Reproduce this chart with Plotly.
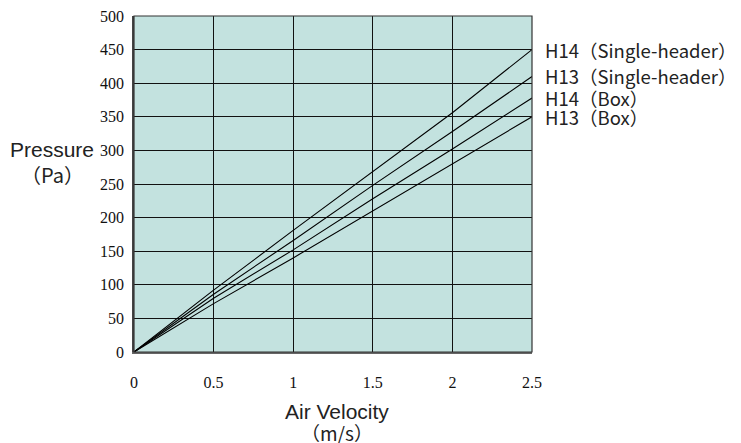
import plotly.graph_objects as go

velocity = [0, 0.5, 1.0, 1.5, 2.0, 2.5]
h14_single = [0, 92, 181, 268, 356, 450]
h13_single = [0, 86, 166, 248, 328, 410]
h14_box = [0, 80, 152, 228, 302, 378]
h13_box = [0, 72, 140, 210, 280, 350]

series = [
    ("H14（Single-header）", h14_single),
    ("H13（Single-header）", h13_single),
    ("H14（Box）", h14_box),
    ("H13（Box）", h13_box),
]

x_ticks = [0, 0.5, 1, 1.5, 2, 2.5]
x_ticktext = ["0", "0.5", "1", "1.5", "2", "2.5"]
y_ticks = list(range(0, 501, 50))
y_ticktext = [str(v) for v in y_ticks]

cjk_font = "Noto Sans CJK JP, Noto Sans CJK SC, sans-serif"
title_font = "Liberation Sans, Arial, sans-serif"
tick_font = "Liberation Serif, Times New Roman, serif"

fig = go.Figure()
for name, vals in series:
    fig.add_trace(go.Scatter(x=velocity, y=vals, mode="lines", name=name,
                             line=dict(color="black", width=1.1), showlegend=False))
    fig.add_annotation(x=velocity[-1], y=vals[-1], xref="x", yref="y", text=name,
                       showarrow=False, xanchor="left", yanchor="middle", xshift=11,
                       font=dict(family=cjk_font, size=18.5, color="#222"))

fig.add_annotation(x=-0.206, y=0.604, xref="paper", yref="paper", text="Pressure",
                   showarrow=False, xanchor="center", yanchor="middle",
                   font=dict(family=title_font, size=21, color="#222"))
fig.add_annotation(x=-0.206, y=0.527, xref="paper", yref="paper", text="（Pa）",
                   showarrow=False, xanchor="center", yanchor="middle",
                   font=dict(family=cjk_font, size=20, color="#222"))
fig.add_annotation(x=0.51, y=0, xref="paper", yref="paper", text="Air Velocity",
                   showarrow=False, xanchor="center", yanchor="middle", yshift=-59,
                   font=dict(family=title_font, size=21, color="#222"))
fig.add_annotation(x=0.51, y=0, xref="paper", yref="paper", text="（m/s）",
                   showarrow=False, xanchor="center", yanchor="middle", yshift=-80,
                   font=dict(family=cjk_font, size=19, color="#222"))

fig.update_xaxes(range=[0, 2.5], tickvals=x_ticks, ticktext=x_ticktext,
                 showgrid=True, gridcolor="#111", gridwidth=1,
                 ticks="outside", ticklen=15, tickcolor="rgba(0,0,0,0)",
                 showline=True, linecolor="#666", linewidth=2, mirror=False,
                 zeroline=False, automargin=False,
                 tickfont=dict(family=tick_font, size=16, color="#111"))
fig.update_yaxes(range=[0, 500], tickvals=y_ticks, ticktext=y_ticktext,
                 showgrid=True, gridcolor="#111", gridwidth=1,
                 ticks="outside", ticklen=5, tickcolor="rgba(0,0,0,0)",
                 showline=True, linecolor="#444", linewidth=1.5,
                 zeroline=False, automargin=False, ticklabeloverflow="allow",
                 tickfont=dict(family=tick_font, size=16, color="#111"))

fig.add_shape(type="rect", xref="paper", yref="paper", x0=0, y0=0, x1=1, y1=1,
              line=dict(color="#333", width=1.2), layer="above")

fig.update_layout(
    width=741, height=443,
    margin=dict(l=126, r=217, t=8, b=99),
    plot_bgcolor="#C3E2DF",
    paper_bgcolor="white",
)

fig.write_html("out.html")
